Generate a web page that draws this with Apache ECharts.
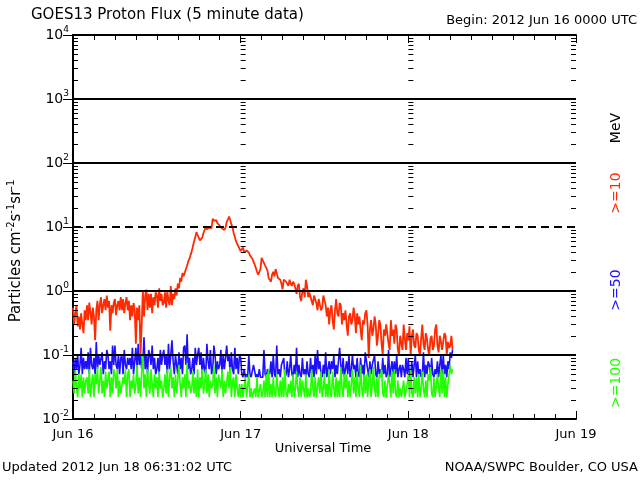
<!DOCTYPE html>
<html><head><meta charset="utf-8">
<script src="https://cdn.jsdelivr.net/npm/echarts@6/dist/echarts.min.js"></script>
<style>html,body{margin:0;padding:0;background:#fff}#c{width:640px;height:480px}</style>
</head><body><div id="c"></div>
<script>
// time step of samples (hours) starting Jun 16 00:00 UTC (10-minute samples)
const STEP_H = 1 / 6;
const dayLabels = ['Jun 16', 'Jun 17', 'Jun 18', 'Jun 19'];
const gridSolid = [1000, 100, 1, 0.1];
const gridDashed = [10];

// >=10 MeV (red), 6 samples per hour
const red = [
.55,.3,.45,.6,.28,.4, .25,.45,.3,.22,.5,.35, .6,.35,.66,.45,.3,.55, .4,.17,.5,.7,.35,.6,
.8,.45,.6,.75,.5,.85, .55,.7,.24,.6,.45,.65, .75,.42,.6,.7,.5,.8, .5,.75,.45,.65,.8,.5,
.7,.35,.6,.4,.65,.5, .15,.55,.35,.6,.1,.3, 1.0,.4,.85,1.05,.5,.9, .55,.9,.45,.8,.6,.95,
.85,.55,1.1,.7,.9,.6, .65,.95,.55,1.0,.7,.6, 1.2,.6,.9,.75,1.1,.85, 1.3,1.1,1.6,1.4,1.9,1.7,
1.7,2.2,2.5,2.9,3.2,3.0, 4.2,5.0,6,7.0,8.3,7.5, 7,6.2,5.8,6.8,8,7.5, 10,9.2,9,9.8,10.5,9.6,
13.5,12.5,12,12.8,11.5,11, 10.5,10,9.5,9.2,9,9.8, 12,13,14.5,13,11,10, 8,7,6,5.5,5,4.6,
4.2,4.5,4.8,4.0,3.8,4.3, 4.5,4.0,3.6,3.4,3.2,3.0, 2.6,2.3,2.0,1.8,1.7,2.2, 3.3,3.0,2.8,2.5,2.4,2.1,
1.6,1.5,1.4,1.8,2.0,1.7, 2.2,1.9,1.6,1.5,1.5,1.3, 1.06,1.5,1.6,1.4,1.4,1.2, 1.5,1.3,1.2,1.4,1.3,1.1,
.9,1.2,1.3,.8,.7,1.0, 1.1,.8,1.5,1.2,.8,.95, 1.0,.7,.6,.85,.9,.65, .5,.75,.7,.5,.55,.85,
.8,.6,.4,.55,.3,.5, .6,.35,.25,.5,.75,.45, .4,.65,.6,.3,.45,.35, .5,.3,.2,.4,.45,.3,
.35,.55,.4,.22,.45,.3, .4,.25,.17,.35,.3,.45, .5,.3,.09,.25,.35,.2, .25,.4,.3,.14,.2,.35,
.3,.15,.1,.25,.2,.3, .28,.15,.12,.35,.2,.25, .15,.3,.25,.12,.1,.2, .2,.12,.3,.18,.12,.22,
.17,.28,.1,.2,.25,.14, .13,.22,.2,.12,.1,.18, .3,.15,.12,.22,.18,.12, .1,.18,.2,.12,.14,.25,
.3,.14,.11,.2,.16,.12, .12,.22,.2,.1,.16,.13, .14,.2,.12
];
// >=50 MeV (blue)
const blue = [
.08,.05,.09,.06,.1,.05, .07,.13,.05,.09,.06,.08, .06,.11,.05,.13,.07,.06, .09,.05,.16,.06,.1,.07,
.07,.11,.05,.08,.06,.12, .1,.06,.08,.05,.14,.07, .14,.07,.06,.1,.05,.09, .1,.05,.12,.07,.06,.09,
.07,.09,.06,.13,.05,.08, .13,.06,.15,.07,.1,.06, .08,.19,.06,.1,.05,.12, .1,.07,.14,.06,.09,.05,
.06,.09,.05,.12,.07,.1, .12,.07,.1,.05,.15,.06, .06,.17,.08,.05,.1,.07, .05,.11,.06,.09,.05,.13,
.14,.07,.21,.06,.09,.05, .06,.09,.05,.13,.07,.1, .13,.07,.11,.05,.09,.06, .05,.15,.08,.06,.12,.05,
.06,.14,.1,.05,.08,.06, .07,.12,.05,.1,.06,.09, .14,.08,.1,.05,.11,.06, .05,.13,.06,.09,.05,.1,
.09,.05,.045,.06,.045,.05, .045,.1,.05,.045,.045,.07, .07,.045,.05,.045,.06,.045, .045,.045,.12,.05,.045,.06,
.06,.05,.08,.045,.1,.05, .045,.14,.05,.06,.045,.07, .07,.09,.045,.05,.08,.045, .06,.1,.05,.045,.07,.05,
.13,.045,.07,.05,.045,.09, .05,.06,.045,.08,.05,.045, .09,.05,.07,.045,.1,.05, .12,.06,.08,.05,.045,.07,
.05,.11,.045,.06,.08,.05, .08,.06,.1,.045,.07,.05, .05,.13,.07,.05,.09,.045, .045,.08,.05,.1,.045,.06,
.1,.06,.07,.045,.09,.05, .045,.09,.05,.07,.045,.11, .11,.06,.045,.08,.05,.07, .07,.1,.05,.045,.08,.05,
.06,.045,.09,.05,.07,.045, .05,.12,.045,.06,.08,.05, .08,.05,.1,.045,.06,.07, .045,.07,.06,.045,.09,.05,
.09,.045,.05,.08,.045,.07, .1,.045,.08,.05,.06,.045, .05,.11,.045,.07,.05,.08, .07,.045,.09,.05,.045,.06,
.05,.08,.045,.07,.1,.05, .1,.05,.07,.045,.08,.06, .11,.09,.12
];
// >=100 MeV (green)
const green = [
.04,.025,.06,.03,.022,.05, .03,.05,.022,.045,.025,.04, .045,.025,.06,.022,.035,.05, .022,.05,.035,.065,.025,.04,
.065,.025,.04,.022,.055,.03, .03,.055,.022,.045,.025,.06, .05,.03,.06,.022,.04,.025, .025,.045,.035,.06,.022,.05,
.06,.022,.04,.03,.05,.025, .035,.07,.025,.045,.022,.055, .1,.03,.05,.022,.06,.035, .025,.06,.035,.022,.05,.03,
.045,.022,.055,.03,.04,.022, .03,.05,.025,.06,.022,.045, .065,.03,.045,.022,.05,.025, .025,.07,.035,.022,.045,.03,
.05,.022,.075,.03,.04,.025, .03,.055,.025,.045,.022,.06, .022,.045,.03,.06,.025,.035, .06,.025,.05,.022,.04,.03,
.035,.07,.025,.045,.022,.05, .05,.03,.06,.022,.04,.025, .025,.055,.03,.065,.022,.04, .045,.022,.05,.03,.022,.035,
.022,.035,.022,.022,.045,.022, .022,.05,.022,.03,.022,.022, .03,.022,.045,.022,.022,.035, .022,.025,.04,.022,.05,.022,
.06,.022,.035,.022,.045,.025, .022,.05,.03,.022,.04,.022, .045,.022,.06,.025,.022,.035, .025,.04,.022,.05,.022,.03,
.055,.03,.022,.045,.022,.04, .04,.022,.05,.022,.03,.022, .025,.06,.03,.022,.045,.022, .022,.045,.025,.055,.022,.03,
.05,.022,.035,.022,.06,.025, .022,.055,.03,.022,.045,.022, .04,.022,.065,.03,.022,.05, .03,.05,.022,.04,.022,.035,
.06,.025,.045,.022,.055,.03, .022,.07,.03,.022,.05,.025, .05,.022,.04,.06,.022,.035, .065,.03,.022,.045,.022,.05,
.045,.06,.025,.022,.04,.022, .022,.05,.035,.022,.055,.025, .06,.025,.022,.04,.022,.03, .022,.022,.04,.022,.022,.035,
.05,.022,.06,.025,.022,.045, .025,.045,.022,.05,.022,.03, .055,.03,.022,.04,.022,.05, .04,.065,.025,.022,.045,.022,
.022,.05,.03,.022,.06,.025, .06,.022,.045,.022,.035,.05, .07,.05,.06
];

const FONT = '"DejaVu Sans"';
const RED = '#ff2a00', BLUE = '#1e10ff', GREEN = '#22ff00';
function toXY(arr) { return arr.map((v, i) => [i * STEP_H, v]); }

// minor log ticks (2..9 per decade) on frame edges and day columns
const tickCols = [[0, 1], [24, 1], [48, 1], [72, -1]];
const tickData = [];
for (const [x, dir] of tickCols) {
  for (let d = -2; d < 4; d++) {
    for (let m = 2; m <= 9; m++) tickData.push([x, m * Math.pow(10, d), dir, 5]);
    if (x === 24 || x === 48) tickData.push([x, Math.pow(10, d), dir, 5]);
  }
}

const chart = echarts.init(document.getElementById('c'));
const lineCommon = { type: 'line', showSymbol: false, symbol: 'none', animation: false, clip: true };
chart.setOption({
  animation: false,
  backgroundColor: '#fff',
  grid: { left: 73, right: 64, top: 35, bottom: 61 },
  xAxis: [{
    type: 'value', min: 0, max: 72, interval: 24, position: 'bottom',
    axisLine: { lineStyle: { color: '#000', width: 2 } },
    axisTick: { inside: true, length: 8, lineStyle: { color: '#000', width: 1 } },
    minorTick: { show: true, splitNumber: 8, length: 5, lineStyle: { color: '#000', width: 1 } },
    splitLine: { show: false },
    axisLabel: { formatter: v => dayLabels[Math.round(v / 24)], color: '#000', fontFamily: FONT, fontSize: 13, margin: 9 }
  }, {
    type: 'value', min: 0, max: 72, interval: 24, position: 'top',
    axisLine: { lineStyle: { color: '#000', width: 2 } },
    axisTick: { inside: true, length: 8, lineStyle: { color: '#000', width: 1 } },
    minorTick: { show: true, splitNumber: 8, length: 5, lineStyle: { color: '#000', width: 1 } },
    splitLine: { show: false }, axisLabel: { show: false }
  }],
  yAxis: [{
    type: 'log', logBase: 10, min: 0.01, max: 10000, splitNumber: 6, position: 'left',
    axisLine: { show: true, lineStyle: { color: '#000', width: 2 } },
    axisTick: { show: true, inside: true, length: 10, lineStyle: { color: '#000', width: 1 } },
    splitLine: { show: false },
    axisLabel: {
      margin: 4,
      formatter: v => '{b|10}{s|' + Math.round(Math.log10(v)) + '}',
      rich: {
        b: { fontFamily: FONT, fontSize: 14, color: '#000' },
        s: { fontFamily: FONT, fontSize: 9, color: '#000', padding: [0, 0, 10, 0] }
      }
    }
  }, {
    type: 'log', logBase: 10, min: 0.01, max: 10000, splitNumber: 6, position: 'right',
    axisLine: { show: true, lineStyle: { color: '#000', width: 2 } },
    axisTick: { show: true, inside: true, length: 10, lineStyle: { color: '#000', width: 1 } },
    splitLine: { show: false }, axisLabel: { show: false }
  }],
  series: [
    Object.assign({}, lineCommon, { name: '>=50', data: toXY(blue), z: 2, lineStyle: { color: BLUE, width: 1.6 } }),
    Object.assign({}, lineCommon, { name: '>=100', data: toXY(green), z: 3, lineStyle: { color: GREEN, width: 1.6 } }),
    Object.assign({}, lineCommon, { name: '>=10', data: toXY(red), z: 4, lineStyle: { color: RED, width: 1.8 } }),
    {
      type: 'line', data: [], z: 10, silent: true,
      markLine: {
        silent: true, symbol: 'none', animation: false, label: { show: false },
        data: gridSolid.map(v => ({ yAxis: v, lineStyle: { color: '#000', width: 2, type: 'solid' } }))
          .concat(gridDashed.map(v => ({ yAxis: v, lineStyle: { color: '#000', width: 2, type: [8, 5] } })))
      }
    },
    {
      type: 'custom', z: 10, silent: true, clip: false, data: tickData,
      renderItem: (params, api) => {
        const p = api.coord([api.value(0), api.value(1)]);
        const dir = api.value(2), len = api.value(3);
        const y = Math.round(p[1]) + 0.5;
        return { type: 'line', shape: { x1: p[0], y1: y, x2: p[0] + dir * len, y2: y }, style: { stroke: '#000', lineWidth: 1 } };
      }
    }
  ],
  graphic: [
    { type: 'text', left: 31, top: 8, style: { text: 'GOES13 Proton Flux (5 minute data)', font: '15px ' + FONT, fill: '#000' } },
    { type: 'text', right: 3, top: 14, style: { text: 'Begin: 2012 Jun 16 0000 UTC', font: '13px ' + FONT, fill: '#000' } },
    { type: 'text', x: 323, y: 449, style: { text: 'Universal Time', font: '13px ' + FONT, fill: '#000', textAlign: 'center', textVerticalAlign: 'middle' } },
    { type: 'text', x: 2, y: 468, style: { text: 'Updated 2012 Jun 18 06:31:02 UTC', font: '13px ' + FONT, fill: '#000', textAlign: 'left', textVerticalAlign: 'middle' } },
    { type: 'text', x: 638, y: 468, style: { text: 'NOAA/SWPC Boulder, CO USA', font: '13px ' + FONT, fill: '#000', textAlign: 'right', textVerticalAlign: 'middle' } },
    { type: 'text', x: 16, y: 251, rotation: Math.PI / 2, style: {
        text: '{a|Particles cm}{s|-2}{a|s}{s|-1}{a|sr}{s|-1}',
        rich: { a: { fontFamily: FONT, fontSize: 15, fill: '#000', color: '#000' }, s: { fontFamily: FONT, fontSize: 10, color: '#000', fill: '#000', padding: [0, 0, 10, 0] } },
        textAlign: 'center', textVerticalAlign: 'middle' } },
    { type: 'text', x: 616, y: 128, rotation: Math.PI / 2, style: { text: 'MeV', font: '14px ' + FONT, fill: '#000', textAlign: 'center', textVerticalAlign: 'middle' } },
    { type: 'text', x: 616, y: 193, rotation: Math.PI / 2, style: { text: '>=10', font: '14px ' + FONT, fill: RED, textAlign: 'center', textVerticalAlign: 'middle' } },
    { type: 'text', x: 616, y: 290, rotation: Math.PI / 2, style: { text: '>=50', font: '14px ' + FONT, fill: BLUE, textAlign: 'center', textVerticalAlign: 'middle' } },
    { type: 'text', x: 616, y: 383, rotation: Math.PI / 2, style: { text: '>=100', font: '14px ' + FONT, fill: GREEN, textAlign: 'center', textVerticalAlign: 'middle' } }
  ]
});
</script>
</body></html>
